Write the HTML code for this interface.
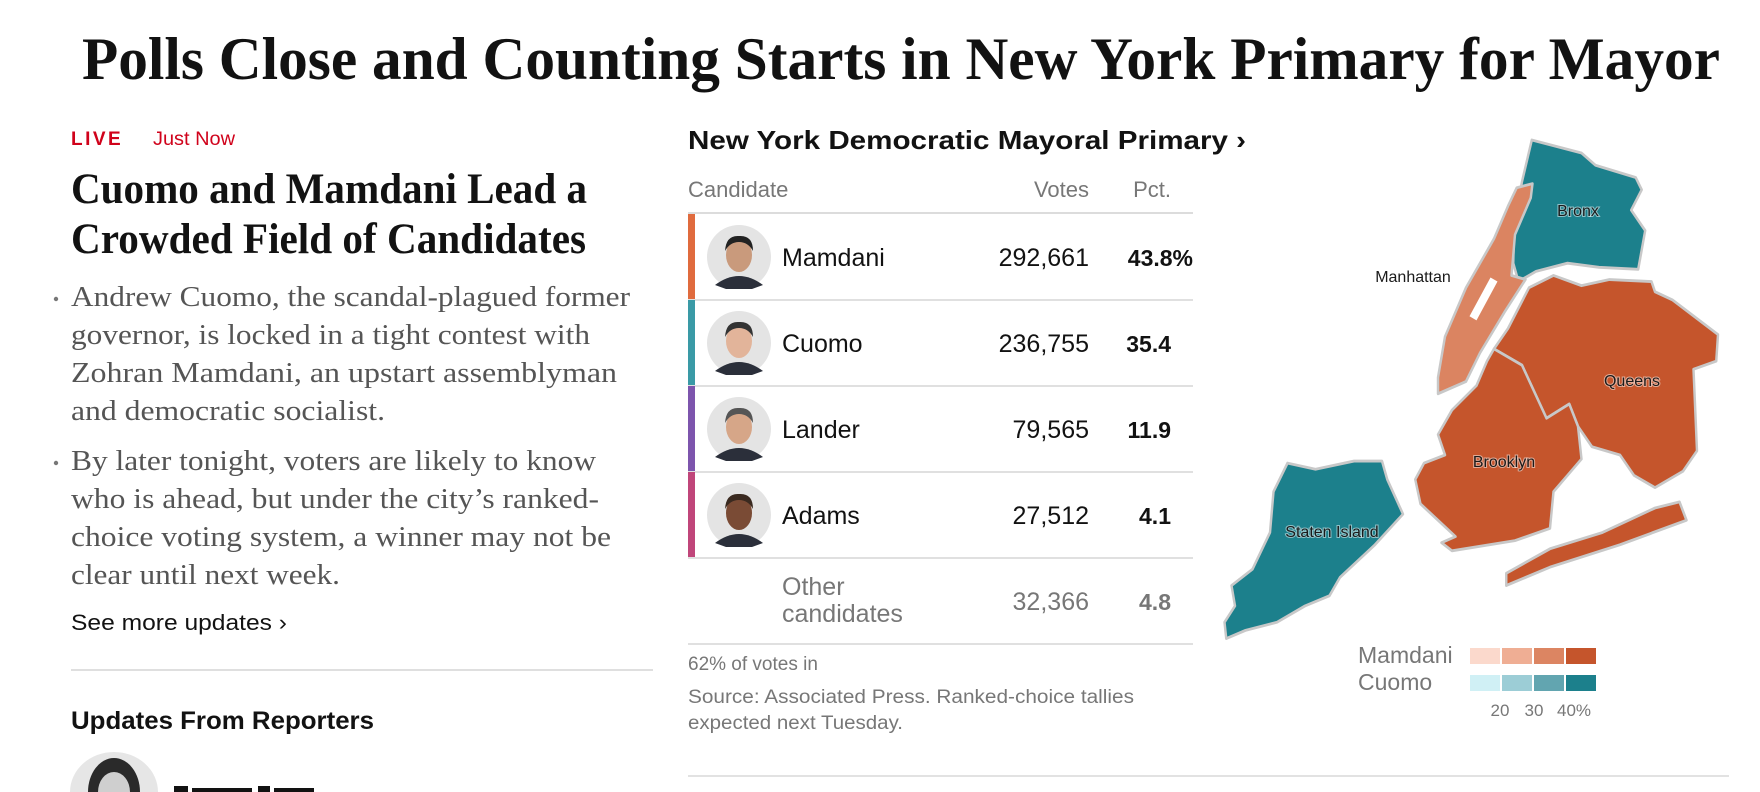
<!DOCTYPE html>
<html><head><meta charset="utf-8"><style>
html,body{margin:0;padding:0;background:#fff;width:1760px;height:792px;overflow:hidden}
svg{display:block}
</style></head><body>
<svg id="page" width="1760" height="792" viewBox="0 0 1760 792" xmlns="http://www.w3.org/2000/svg" font-family="'Liberation Sans', sans-serif">
<text x="82" y="79" font-family="'Liberation Serif',serif" font-weight="bold" font-size="60" fill="#121212" textLength="1638" lengthAdjust="spacingAndGlyphs">Polls Close and Counting Starts in New York Primary for Mayor</text>

<text x="71" y="145" font-weight="bold" font-size="19" fill="#d0021b" letter-spacing="2.5">LIVE</text>
<text x="153" y="145" font-size="19" fill="#d0021b" textLength="82" lengthAdjust="spacingAndGlyphs">Just Now</text>

<g font-family="'Liberation Serif',serif" font-weight="bold" font-size="43" fill="#121212">
<text x="71" y="203" textLength="516" lengthAdjust="spacingAndGlyphs">Cuomo and Mamdani Lead a</text>
<text x="71" y="253" textLength="515" lengthAdjust="spacingAndGlyphs">Crowded Field of Candidates</text>
</g>

<g font-family="'Liberation Serif',serif" font-size="28" fill="#555">
<circle cx="56" cy="299" r="2.2" fill="#777"/>
<text x="71" y="306" textLength="559" lengthAdjust="spacingAndGlyphs">Andrew Cuomo, the scandal-plagued former</text>
<text x="71" y="344" textLength="519" lengthAdjust="spacingAndGlyphs">governor, is locked in a tight contest with</text>
<text x="71" y="382" textLength="546" lengthAdjust="spacingAndGlyphs">Zohran Mamdani, an upstart assemblyman</text>
<text x="71" y="420" textLength="314" lengthAdjust="spacingAndGlyphs">and democratic socialist.</text>
<circle cx="56" cy="463" r="2.2" fill="#777"/>
<text x="71" y="470" textLength="525" lengthAdjust="spacingAndGlyphs">By later tonight, voters are likely to know</text>
<text x="71" y="508" textLength="528" lengthAdjust="spacingAndGlyphs">who is ahead, but under the city’s ranked-</text>
<text x="71" y="546" textLength="540" lengthAdjust="spacingAndGlyphs">choice voting system, a winner may not be</text>
<text x="71" y="584" textLength="269" lengthAdjust="spacingAndGlyphs">clear until next week.</text>
</g>

<text x="71" y="630" font-size="22" fill="#121212" textLength="216" lengthAdjust="spacingAndGlyphs">See more updates ›</text>
<rect x="71" y="669" width="582" height="2" fill="#dfdfdf"/>
<text x="71" y="729" font-weight="bold" font-size="25" fill="#121212" textLength="303" lengthAdjust="spacingAndGlyphs">Updates From Reporters</text>
<g>
<path d="M70 792 A44 40 0 0 1 158 792 Z" fill="#e6e6e6"/>
<path d="M88 792 A26 34 0 0 1 140 792 Z" fill="#2a2a2a"/>
<path d="M98 792 A16 20 0 0 1 130 792 Z" fill="#cfcfcf"/>
</g>
<g fill="#121212">
<rect x="174" y="786" width="14" height="6"/><rect x="192" y="788" width="60" height="4"/><rect x="258" y="786" width="12" height="6"/><rect x="274" y="788" width="40" height="4"/>
</g>

<!-- results table -->
<text x="688" y="149" font-weight="bold" font-size="26" fill="#121212" textLength="558" lengthAdjust="spacingAndGlyphs">New York Democratic Mayoral Primary ›</text>
<g font-size="22" fill="#777">
<text x="688" y="197">Candidate</text>
<text x="1089" y="197" text-anchor="end">Votes</text>
<text x="1171" y="197" text-anchor="end">Pct.</text>
</g>
<rect x="688" y="212" width="505" height="2" fill="#dcdcdc"/>
<g id="rows"></g>
<text x="688" y="670" font-size="19" fill="#777">62% of votes in</text>
<g font-size="19" fill="#777">
<text x="688" y="703" textLength="446" lengthAdjust="spacingAndGlyphs">Source: Associated Press. Ranked-choice tallies</text>
<text x="688" y="729" textLength="215" lengthAdjust="spacingAndGlyphs">expected next Tuesday.</text>
</g>
<rect x="688" y="775" width="1041" height="2" fill="#e2e2e2"/>

<!-- map -->
<g transform="translate(1200,100) scale(0.35,0.408)" stroke="#c8c8c8" stroke-width="7" stroke-linejoin="round">
<polygon fill="#1c808c" points="948,98 1090,130 1130,160 1245,190 1262,220 1232,270 1272,320 1252,415 1140,410 1050,400 960,420 910,445 895,400 898,300 920,200"/>
<polygon fill="#db8461" points="905,215 950,205 945,240 900,330 890,430 930,440 870,520 800,620 760,690 680,720 680,680 700,580 760,460 840,340 880,260"/>
<polygon fill="#fff" stroke="none" points="830,435 850,445 790,540 770,530"/>
<polygon fill="#c5552c" points="840,610 880,560 940,460 1010,430 1090,455 1170,440 1290,445 1300,470 1350,490 1480,575 1475,640 1410,660 1420,860 1380,910 1300,950 1240,920 1200,870 1120,850 1080,800 1055,745 990,780 920,650"/>
<polygon fill="#c5552c" points="840,610 920,650 990,780 1055,745 1080,800 1090,880 1050,920 1010,960 1000,1050 900,1080 720,1105 690,1085 730,1070 680,1030 630,990 615,930 640,890 700,870 680,820 720,760 790,700 820,640"/>
<ellipse cx="1140" cy="1000" rx="95" ry="38" fill="#fff" stroke="none"/>
<polygon fill="#c5552c" points="875,1160 1000,1100 1150,1060 1300,1000 1370,985 1390,1030 1200,1090 1000,1145 875,1190"/>
<polygon fill="#1c808c" points="250,890 330,905 440,885 520,885 535,930 580,1015 500,1090 400,1170 370,1215 300,1240 220,1280 130,1300 75,1320 70,1280 100,1240 90,1190 150,1150 200,1060 210,960"/>
</g>
<g font-size="16" fill="#1a1a1a" text-anchor="middle" stroke="#ffffff" stroke-width="2" paint-order="stroke" stroke-opacity="0.5">
<text x="1578" y="216">Bronx</text>
<text x="1413" y="282" stroke="none">Manhattan</text>
<text x="1632" y="386">Queens</text>
<text x="1504" y="467">Brooklyn</text>
<text x="1332" y="537">Staten Island</text>
</g>
<g id="legend"></g>
</svg>
<script>
const candidates = ["Mamdani", "Cuomo", "Lander", "Adams", "Other candidates"];
const votes = [292661, 236755, 79565, 27512, 32366];
const pcts = [43.8, 35.4, 11.9, 4.1, 4.8];
const barColors = ["#e06b3e", "#3a9aa6", "#7d55ad", "#c0467a", null];
const legendTicks = [20, 30, 40];
const legendSeries = ["Mamdani", "Cuomo"];
const mamdaniShades = ["#fbd9cc", "#efae94", "#dc8562", "#c5552c"];
const cuomoShades = ["#d0f0f5", "#9ccdd6", "#62a5b0", "#1c808c"];

const NS = "http://www.w3.org/2000/svg";
function mk(tag, attrs, parent, text){
  const e = document.createElementNS(NS, tag);
  for (const k in attrs) e.setAttribute(k, attrs[k]);
  if (text !== undefined) e.textContent = text;
  parent.appendChild(e); return e;
}
const rowsG = document.getElementById("rows");
const top0 = 214, rowH = 86;
const fmt = n => n.toLocaleString("en-US");
const skin = ["#c99a7c","#e2b49a","#d6a688","#7a4b35"];
const hair = ["#222","#333","#555","#3a2a20"];
candidates.forEach((name, i) => {
  const y = top0 + i * rowH;
  const g = mk("g", {}, rowsG);
  
  
  const other = barColors[i] === null;
  const cy = y + rowH / 2;
  if (!other) {
    const bar = mk("rect", {x: 688, y: y, width: 7, height: rowH, fill: barColors[i]}, g);
    
    
    const av = mk("g", {}, g);
    
    
    mk("circle", {cx: 739, cy: cy, r: 32, fill: "#e4e4e4"}, av);
    mk("path", {d: `M715 ${cy+28} Q739 ${cy+10} 763 ${cy+28} L752 ${cy+32} L726 ${cy+32} Z`, fill: "#2b2f3a"}, av);
    mk("ellipse", {cx: 739, cy: cy - 2, rx: 13, ry: 17, fill: skin[i]}, av);
    mk("path", {d: `M725 ${cy-6} Q726 ${cy-22} 739 ${cy-21} Q753 ${cy-22} 753 ${cy-6} Q748 ${cy-15} 739 ${cy-15} Q730 ${cy-15} 725 ${cy-6} Z`, fill: hair[i]}, av);
    const t = mk("text", {x: 782, y: cy + 9, "font-size": 25, fill: "#121212"}, g, name);
    
    
  } else {
    const t = mk("text", {x: 782, y: cy - 6, "font-size": 25, fill: "#777"}, g);
    
    
    mk("tspan", {x: 782}, t, "Other");
    mk("tspan", {x: 782, dy: 27}, t, "candidates");
  }
  const v = mk("text", {x: 1089, y: cy + 9, "font-size": 25, fill: other ? "#777" : "#121212", "text-anchor": "end"}, g, fmt(votes[i]));
  
  
  const p = mk("text", {x: i === 0 ? 1193 : 1171, y: cy + 9, "font-size": 23, "font-weight": "bold", fill: other ? "#777" : "#121212", "text-anchor": "end"}, g, pcts[i].toFixed(1) + (i === 0 ? "%" : ""));
  
  
  const rule = mk("rect", {x: 688, y: y + rowH - 1, width: 505, height: 2, fill: "#e0e0e0"}, g);
  
  
});

const lg = document.getElementById("legend");
const shades = [mamdaniShades, cuomoShades];
legendSeries.forEach((s, r) => {
  const ly = 644 + r * 27;
  const t = mk("text", {x: 1358, y: ly + 19, "font-size": 23, fill: "#777"}, lg, s);
  
  
  shades[r].forEach((c, j) => {
    const sw = mk("rect", {x: 1470 + j * 32, y: ly + 4, width: 30, height: 16, fill: c}, lg);
    
    
  });
});
legendTicks.forEach((tk, j) => {
  const t = mk("text", {x: 1500 + j * 34 + (j === 2 ? 6 : 0), y: 716, "font-size": 17, fill: "#777", "text-anchor": "middle"}, lg, tk + (j === legendTicks.length - 1 ? "%" : ""));
  
  
});
</script>
</body></html>
